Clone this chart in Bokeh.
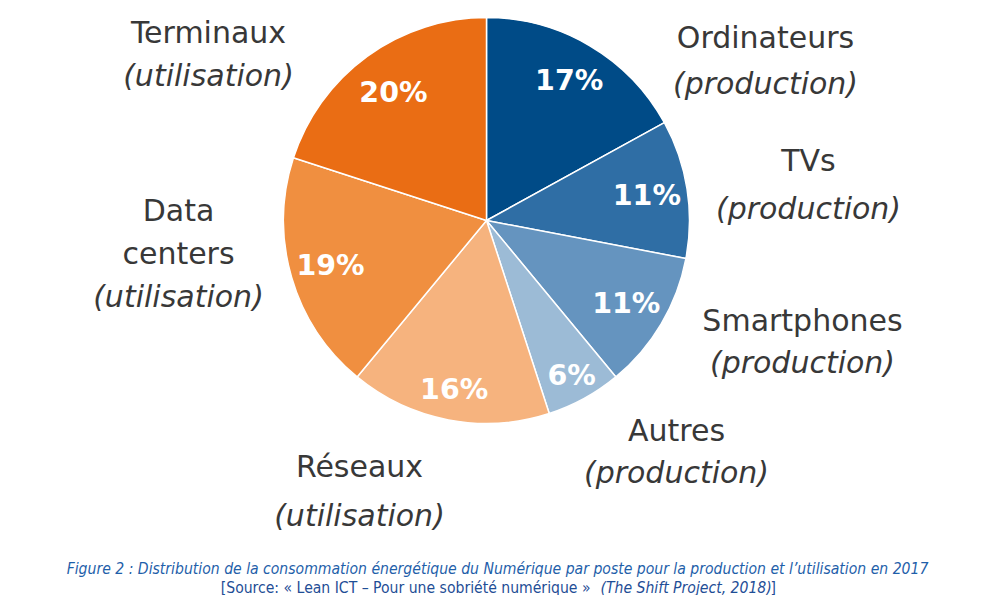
import math
from bokeh.plotting import figure
from bokeh.models import Range1d, ColumnDataSource
from bokeh.core.properties import value
from bokeh.embed import file_html
from bokeh.resources import INLINE

# ---- data ----
categories = ["Ordinateurs", "TVs", "Smartphones", "Autres", "Réseaux", "Data centers", "Terminaux"]
kinds = ["(production)", "(production)", "(production)", "(production)", "(utilisation)", "(utilisation)", "(utilisation)"]
shares = [17, 11, 11, 6, 16, 19, 20]
colors = ["#004B87", "#2F6EA5", "#6594BF", "#9CBBD6", "#F6B37E", "#F08F40", "#EA6D14"]
label_r = [0.80, 0.80, 0.80, 0.87, 0.85, 0.80, 0.78]
caption1 = "Figure 2 : Distribution de la consommation énergétique du Numérique par poste pour la production et l\u2019utilisation en 2017"
caption2a = "[Source: \u00ab Lean ICT \u2013 Pour une sobriété numérique \u00bb"
caption2b = "(The Shift Project, 2018)"
caption2c = "]"

W, H = 986, 595
def Y(y_img):
    return 611 - y_img

p = figure(width=W, height=H, output_backend="svg", toolbar_location=None,
           x_range=Range1d(0, 986), y_range=Range1d(16, 611), min_border=0)
p.axis.visible = False
p.grid.visible = False
p.outline_line_color = None

cx, cy, R = 486, Y(220), 203
total = sum(shares)
starts, ends, mids = [], [], []
a = math.pi / 2
for s in shares:
    da = s / total * 2 * math.pi
    starts.append(a - da)
    ends.append(a)
    mids.append(a - da / 2)
    a -= da

src = ColumnDataSource(dict(start=starts, end=ends, color=colors))
p.wedge(x=cx, y=cy, radius=R, start_angle="start", end_angle="end",
        fill_color="color", line_color="white", line_width=1.5, source=src)

pct_x = [cx + f * R * math.cos(m) for f, m in zip(label_r, mids)]
pct_y = [cy + f * R * math.sin(m) for f, m in zip(label_r, mids)]
p.text(x=pct_x, y=pct_y, text=[f"{s}%" for s in shares], text_color="white",
       text_font=value("DejaVu Sans"), text_font_style="bold", text_font_size="28.5px",
       text_align="center", text_baseline="middle")

# outside category labels (image-pixel anchor of each text block)
lab_lines = [["Ordinateurs", "(production)"], ["TVs", "(production)"],
             ["Smartphones", "(production)"], ["Autres", "(production)"],
             ["Réseaux", "(utilisation)"], ["Data", "centers", "(utilisation)"],
             ["Terminaux", "(utilisation)"]]
lab_pos = [(765, 37), (808, 160), (802, 320), (676, 430), (359, 466), (178, 210), (208, 32)]
gap = [46, 48, 42, 42, 49, 43, 43]
for lines, (lx, ly), g in zip(lab_lines, lab_pos, gap):
    for i, t in enumerate(lines):
        italic = t.startswith("(")
        p.text(x=[lx], y=[Y(ly + i * g)], text=[t], text_color="#383838",
               text_font=value("DejaVu Sans"), text_font_style="italic" if italic else "normal",
               text_font_size="30px", text_align="center", text_baseline="middle")

cap_font = value("DejaVu Sans Condensed")
p.text(x=[497], y=[Y(568)], text=[caption1], text_color="#1F5FAA",
       text_font=cap_font, text_font_style="italic", text_font_size="15.6px",
       text_align="center", text_baseline="middle")
p.text(x=[590], y=[Y(587)], text=[caption2a], text_color="#1F4E96",
       text_font=cap_font, text_font_size="15.6px",
       text_align="right", text_baseline="middle")
p.text(x=[600], y=[Y(587)], text=[caption2b], text_color="#1F4E96",
       text_font=cap_font, text_font_style="italic", text_font_size="15.6px",
       text_align="left", text_baseline="middle")
p.text(x=[770], y=[Y(587)], text=[caption2c], text_color="#1F4E96",
       text_font=cap_font, text_font_size="15.6px",
       text_align="left", text_baseline="middle")

open("out.html", "w").write(file_html(p, INLINE))
